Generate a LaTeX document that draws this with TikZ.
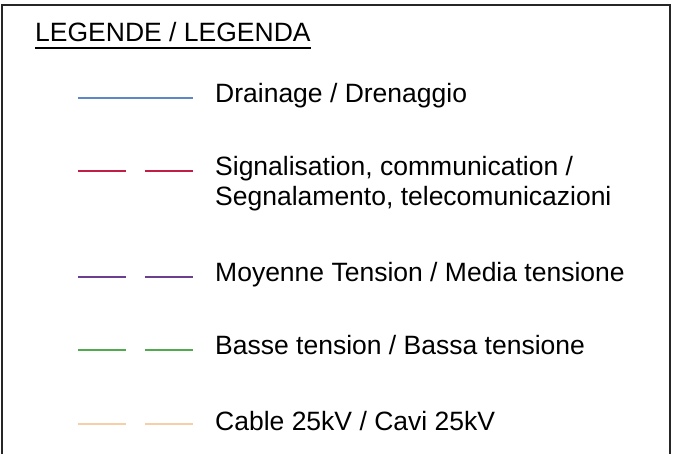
\documentclass[tikz,border=0pt]{standalone}
\usepackage{fontspec}
\setmainfont{Liberation Sans}
\usepackage{tikz}
\definecolor{drainblue}{HTML}{5F86C6}
\definecolor{signred}{HTML}{C21E45}
\definecolor{mtpurple}{HTML}{6B3F8E}
\definecolor{btgreen}{HTML}{52AA4E}
\definecolor{cableorange}{HTML}{F6CFA8}
\tikzset{
  legtext/.style={inner sep=0pt, font=\fontsize{26.5}{30}\selectfont, align=left},
  legline/.style={line width=1.1pt},
  twodash/.style={dash pattern=on 48pt off 19pt}
}

\begin{document}
\begin{tikzpicture}[x=1pt,y=-1pt]
  \useasboundingbox (0,0) rectangle (675,454);

  % frame (open at the bottom)
  \coordinate(f1) at (2,454);
  \coordinate(f2) at (2,5);
  \coordinate(f3) at (670,5);
  \coordinate(f4) at (670,454);
  \draw[line width=1.6pt, black!85] (f1) -- (f2) -- (f3) -- (f4);

  % title
  \node[legtext, anchor=base west] (title) at (35,42) {LEGENDE / LEGENDA};
  \draw[line width=1.3pt] ([yshift=-6pt]title.base west) -- ([yshift=-6pt]title.base east);

  % line ends
  \coordinate(d1) at (78,98);
  \coordinate(d2) at (193,98);
  \coordinate(s1) at (78,171);
  \coordinate(s2) at (193,171);
  \coordinate(m1) at (78,277);
  \coordinate(m2) at (193,277);
  \coordinate(b1) at (78,350);
  \coordinate(b2) at (193,350);
  \coordinate(c1) at (78,424);
  \coordinate(c2) at (193,424);

  % the lines
  \draw[legline, drainblue] (d1) -- (d2);
  \draw[legline, twodash, signred] (s1) -- (s2);
  \draw[legline, twodash, mtpurple] (m1) -- (m2);
  \draw[legline, twodash, btgreen] (b1) -- (b2);
  \draw[legline, twodash, cableorange] (c1) -- (c2);

  % the texts (two-line node sits on its last baseline)
  \node[legtext, anchor=base west] (tdrain) at (215,103) {Drainage / Drenaggio};
  \node[legtext, anchor=base west] (tsign) at (215,206) {Signalisation, communication /\\Segnalamento, telecomunicazioni};
  \node[legtext, anchor=base west] (tmoy) at (215,282) {Moyenne Tension / Media tensione};
  \node[legtext, anchor=base west] (tbasse) at (215,355) {Basse tension / Bassa tensione};
  \node[legtext, anchor=base west] (tcable) at (215,430) {Cable 25kV / Cavi 25kV};
\end{tikzpicture}
\end{document}
